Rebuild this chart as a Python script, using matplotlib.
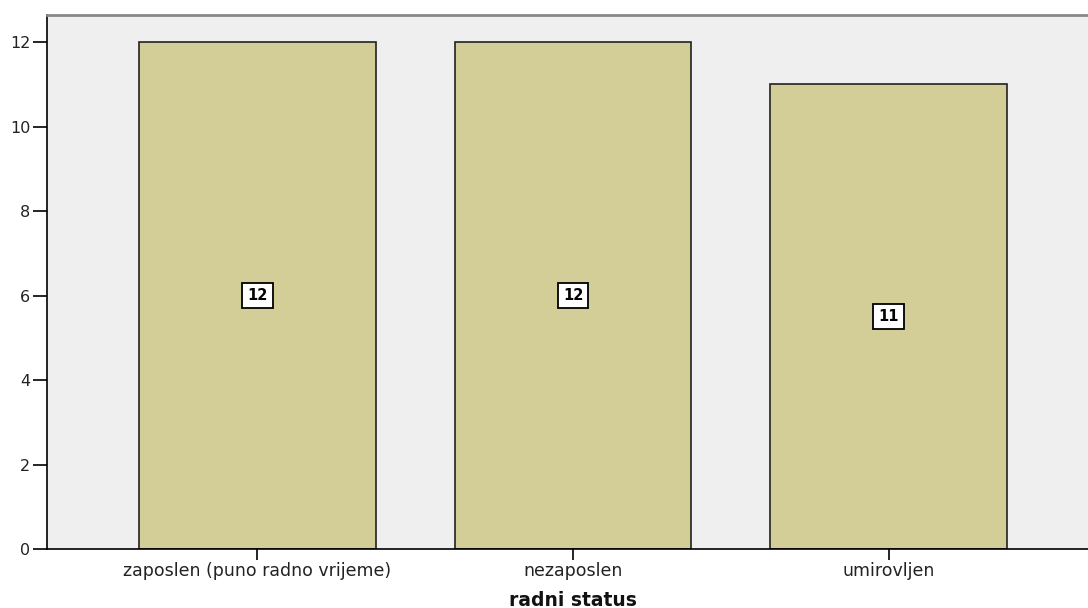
import matplotlib.pyplot as plt

# radni status - frekvencije
categories = ["zaposlen (puno radno vrijeme)", "nezaposlen", "umirovljen"]
counts = [12, 12, 11]
yticks = [0, 2, 4, 6, 8, 10, 12]

fig = plt.figure(figsize=(10.88, 6.08), dpi=100)
ax = fig.add_axes([0.0432, 0.097, 0.9568, 0.878])
ax.set_facecolor("#efefef")

x = range(len(categories))
bars = ax.bar(x, counts, width=0.75, color="#d3ce97", edgecolor="#222222", linewidth=1.2, zorder=2)

# vrijednosti u sredini stupaca
for rect, val in zip(bars, counts):
    ax.text(rect.get_x() + rect.get_width() / 2, val / 2, str(val),
            ha="center", va="center", fontsize=10.5, fontweight="bold", zorder=3,
            bbox=dict(boxstyle="square,pad=0.35", facecolor="white", edgecolor="black", linewidth=1.3))

ax.set_xlim(-0.667, 2.632)
ax.set_ylim(0, 12.64)
ax.set_xticks(list(x))
ax.set_xticklabels(categories, fontsize=12.5, color="#222222")
ax.set_yticks(yticks)
ax.tick_params(axis="y", labelsize=11.5, labelcolor="#222222", length=10, width=1.2, direction="out", pad=2)
ax.tick_params(axis="x", length=8, width=1.2, direction="out", pad=1)

ax.spines["right"].set_visible(False)
ax.spines["top"].set_color("#888888")
ax.spines["top"].set_linewidth(2)
ax.spines["left"].set_linewidth(1.2)
ax.spines["bottom"].set_linewidth(1.2)

# naslov osi x centriran ispod srednjeg stupca
x_mid = ax.transData.transform((1, 0))[0] / fig.bbox.width
fig.text(x_mid, 0.013, "radni status", ha="center", va="center",
         fontsize=13.5, fontweight="bold", color="#111111")

fig.savefig("out.png", dpi=100)
